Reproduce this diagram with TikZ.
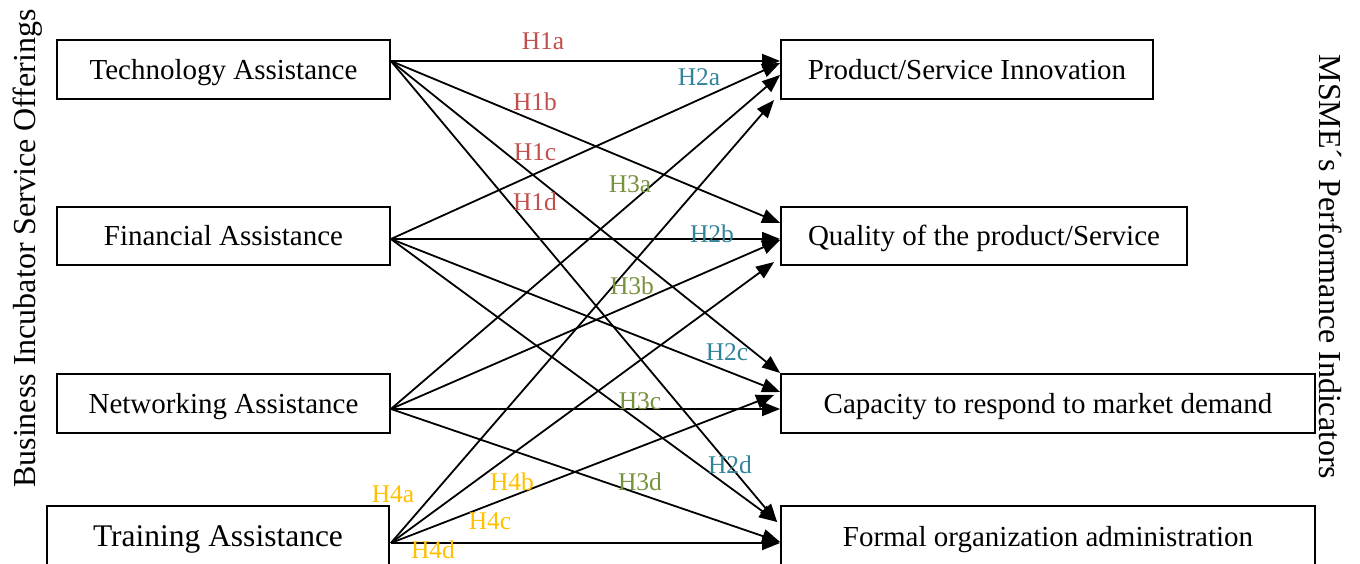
\documentclass[tikz,border=0pt]{standalone}
\usepackage{fontspec}
\setmainfont{Liberation Serif}
\usetikzlibrary{arrows.meta}
\definecolor{hred}{RGB}{192,80,77}
\definecolor{hblue}{RGB}{49,132,155}
\definecolor{hgreen}{RGB}{118,146,60}
\definecolor{hyellow}{RGB}{255,192,0}

\begin{document}
\begin{tikzpicture}[x=1pt,y=-1pt,
  box/.style={draw, line width=1.8pt, inner sep=0pt, text height=20pt, text depth=0pt,
              font=\fontsize{29}{34}\selectfont},
  link/.style={line width=1.8pt, -{Triangle[length=18pt,width=14pt]}},
  hlab/.style={font=\fontsize{25.5}{30}\selectfont, inner sep=0pt},
  side/.style={font=\fontsize{32}{38}\selectfont, inner sep=0pt}]
\useasboundingbox (0,0) rectangle (1360,564);

% incubator services (left column)
\node[box, minimum width=333pt, minimum height=59pt] (tech)  at (223.5,69.5)  {Technology Assistance};
\node[box, minimum width=333pt, minimum height=58pt] (fin)   at (223.5,236)   {Financial Assistance};
\node[box, minimum width=333pt, minimum height=59pt] (net)   at (223.5,403.5) {Networking Assistance};
\node[box, minimum width=342pt, minimum height=60pt, text height=21.5pt,
      font=\fontsize{31.5}{36}\selectfont] (train) at (218,536) {Training Assistance};

% performance indicators (right column)
\node[box, minimum width=372pt, minimum height=59pt] (prod)   at (967,69.5)   {Product/Service Innovation};
\node[box, minimum width=406pt, minimum height=58pt] (qual)   at (984,236)    {Quality of the product/Service};
\node[box, minimum width=534pt, minimum height=59pt] (cap)    at (1048,403.5) {Capacity to respond to market demand};
\node[box, minimum width=534pt, minimum height=60pt] (formal) at (1048,536)   {Formal organization administration};

% side titles
\node[side, rotate=90]  (lefttitle)  at (28,248.5)  {Business Incubator Service Offerings};
\node[side, rotate=-90] (righttitle) at (1331,267)  {MSME´s Performance Indicators};

% H1: technology assistance
\draw[link] ([yshift=8.5pt]tech.east) -- ([yshift=8.5pt]prod.west);
\draw[link] ([yshift=8.5pt]tech.east) -- ([yshift=13pt]qual.west);
\draw[link] ([yshift=8.5pt]tech.east) -- ([yshift=30.5pt]cap.west);
\draw[link] ([yshift=8.5pt]tech.east) -- ([xshift=-3pt,yshift=14pt]formal.west);

% H2: financial assistance
\draw[link] ([yshift=-3pt]fin.east) -- ([yshift=6.5pt]prod.west);
\draw[link] ([yshift=-3pt]fin.east) -- ([yshift=-3pt]qual.west);
\draw[link] ([yshift=-3pt]fin.east) -- ([yshift=11.5pt]cap.west);
\draw[link] ([yshift=-3pt]fin.east) -- ([xshift=-3pt,yshift=14pt]formal.west);

% H3: networking assistance
\draw[link] ([yshift=-5.5pt]net.east) -- ([yshift=-5.5pt]prod.west);
\draw[link] ([yshift=-5.5pt]net.east) -- ([yshift=-4pt]qual.west);
\draw[link] ([yshift=-5.5pt]net.east) -- ([yshift=-5.5pt]cap.west);
\draw[link] ([yshift=-5.5pt]net.east) -- ([yshift=-6pt]formal.west);

% H4: training assistance
\draw[link] ([xshift=1pt,yshift=-7pt]train.east) -- ([xshift=-6pt,yshift=-30.5pt]prod.west);
\draw[link] ([xshift=1pt,yshift=-7pt]train.east) -- ([xshift=-6pt,yshift=-26pt]qual.west);
\draw[link] ([xshift=1pt,yshift=-7pt]train.east) -- ([xshift=-6pt,yshift=8.5pt]cap.west);
\draw[link] ([xshift=1pt,yshift=-7pt]train.east) -- ([yshift=-7pt]formal.west);

% hypothesis labels
\node[hlab, text=hred] (h1a) at (543,41)  {H1a};
\node[hlab, text=hred] (h1b) at (535,102) {H1b};
\node[hlab, text=hred] (h1c) at (535,152) {H1c};
\node[hlab, text=hred] (h1d) at (535,202) {H1d};
\node[hlab, text=hblue] (h2a) at (699,77)  {H2a};
\node[hlab, text=hblue] (h2b) at (712,234) {H2b};
\node[hlab, text=hblue] (h2c) at (727,352) {H2c};
\node[hlab, text=hblue] (h2d) at (730,465) {H2d};
\node[hlab, text=hgreen] (h3a) at (630,184) {H3a};
\node[hlab, text=hgreen] (h3b) at (632,286) {H3b};
\node[hlab, text=hgreen] (h3c) at (640,401) {H3c};
\node[hlab, text=hgreen] (h3d) at (640,482) {H3d};
\node[hlab, text=hyellow] (h4a) at (393,494) {H4a};
\node[hlab, text=hyellow] (h4b) at (512,482) {H4b};
\node[hlab, text=hyellow] (h4c) at (490,521) {H4c};
\node[hlab, text=hyellow] (h4d) at (433,550) {H4d};
\end{tikzpicture}
\end{document}
